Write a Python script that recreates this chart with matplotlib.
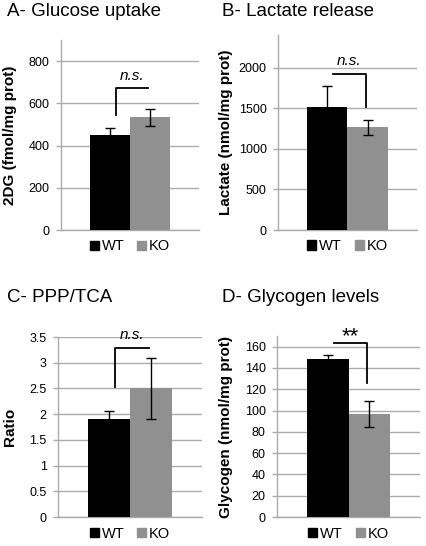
import matplotlib
matplotlib.use("Agg")
import matplotlib.pyplot as plt
from matplotlib.patches import Patch

plt.rcParams['font.family'] = ['Liberation Sans', 'DejaVu Sans']

# panel data
titles = ['A- Glucose uptake', 'B- Lactate release', 'C- PPP/TCA', 'D- Glycogen levels']
ylabels = ['2DG (fmol/mg prot)', 'Lactate (nmol/mg prot)', 'Ratio', 'Glycogen (nmol/mg prot)']
groups = ['WT', 'KO']
wt_mean = [452, 1515, 1.90, 148]
wt_err = [30, 260, 0.17, 4]
ko_mean = [535, 1265, 2.50, 97]
ko_err = [40, 93, 0.60, 12]
ymax = [900, 2400, 3.5, 170]
ystep = [200, 500, 0.5, 20]
tick_labels = [
    ['0', '200', '400', '600', '800'],
    ['0', '500', '1000', '1500', '2000'],
    ['0', '0.5', '1', '1.5', '2', '2.5', '3', '3.5'],
    ['0', '20', '40', '60', '80', '100', '120', '140', '160'],
]
# significance brackets: left leg start, bar height, right leg end
sig_left = [547, None, 2.53, None]
sig_top = [671, 1921, 3.29, 163]
sig_right = [None, 1515, None, 125.5]
sig_text = ['n.s.', 'n.s.', 'n.s.', '**']

colors = ['#000000', '#909090']
grid_color = '#ababab'

W, H = 427, 546
fig = plt.figure(figsize=(W / 100, H / 100), dpi=100)

# axes boxes in pixels: left, top, right, bottom
boxes = [(61, 40, 199, 230), (278, 35, 417, 230), (58, 337, 202, 517), (277, 336, 420, 517)]
title_pos = [(7, 12), (222, 12), (7, 297), (222, 297)]
ylabel_x = [10, 226, 10, 226]

w = 0.58
for i in range(4):
    l, t, r, b = boxes[i]
    ax = fig.add_axes([l / W, 1 - b / H, (r - l) / W, (b - t) / H])
    x = [-w / 2, w / 2]
    ax.bar(x[0], wt_mean[i], width=w, color=colors[0], zorder=3)
    ax.bar(x[1], ko_mean[i], width=w, color=colors[1], zorder=3)
    ax.errorbar(x, [wt_mean[i], ko_mean[i]], yerr=[wt_err[i], ko_err[i]], fmt='none',
                ecolor='black', elinewidth=1.0, capsize=3.5, capthick=1.0, zorder=4)

    ax.set_xlim(-1, 1)
    ax.set_ylim(0, ymax[i])
    ticks = [k * ystep[i] for k in range(len(tick_labels[i]))]
    ax.set_yticks(ticks)
    ax.set_yticklabels(tick_labels[i], fontsize=9)
    ax.set_xticks([])
    ax.tick_params(axis='y', length=3.6, width=1.0, color=grid_color, pad=4.5)
    ax.yaxis.grid(True, color=grid_color, linewidth=1.0, zorder=0)
    ax.set_axisbelow(True)
    for s in ['top', 'right']:
        ax.spines[s].set_visible(False)
    ax.spines['left'].set_color(grid_color)
    ax.spines['bottom'].set_color(grid_color)
    ax.spines['left'].set_linewidth(1.0)
    ax.spines['bottom'].set_linewidth(1.0)

    # bracket
    xl = x[0] + 0.15 * w
    xr = x[1] - 0.05 * w
    bx, by = [], []
    if sig_left[i] is not None:
        bx.append(xl); by.append(sig_left[i])
    bx += [xl, xr]; by += [sig_top[i], sig_top[i]]
    if sig_right[i] is not None:
        bx.append(xr); by.append(sig_right[i])
    ax.plot(bx, by, color='black', linewidth=1.3, clip_on=False, zorder=5)
    if sig_text[i] == 'n.s.':
        ax.annotate(sig_text[i], xy=((xl + xr) / 2, sig_top[i]), xytext=(0, 9),
                    textcoords='offset points', ha='center', va='center',
                    fontsize=11, style='italic', annotation_clip=False)
    else:
        ax.annotate(sig_text[i], xy=((xl + xr) / 2, sig_top[i]), xytext=(0, 5),
                    textcoords='offset points', ha='center', va='center',
                    fontsize=16, annotation_clip=False)

    fig.text(title_pos[i][0] / W, 1 - title_pos[i][1] / H, titles[i],
             fontsize=13.5, ha='left', va='center')
    fig.text(ylabel_x[i] / W, 1 - ((t + b) / 2) / H, ylabels[i], rotation=90,
             fontsize=11, fontweight='bold', ha='center', va='center')

    handles = [Patch(color=colors[0]), Patch(color=colors[1])]
    ax.legend(handles, groups, loc='upper center', bbox_to_anchor=(0.5, 0.02), ncol=2,
              frameon=False, fontsize=10.5, handlelength=0.6, handleheight=0.6,
              handletextpad=0.2, columnspacing=0.9)

fig.savefig('out.png', dpi=100)
